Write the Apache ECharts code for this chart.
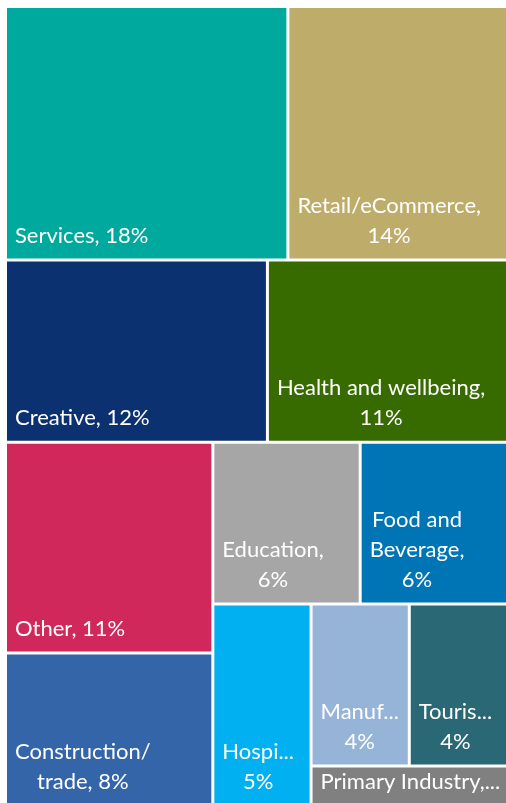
<!DOCTYPE html>
<html>
<head>
<meta charset="utf-8">
<title>Business sectors</title>
<script src="https://cdn.jsdelivr.net/npm/echarts@6/dist/echarts.min.js"></script>
<style>
  html, body { margin: 0; padding: 0; background: #ffffff; }
  #chart { width: 506px; height: 803px; }
</style>
</head>
<body>
<div id="chart"></div>
<script>
// Share of businesses by sector (percent)
const sectors = [
  'Services', 'Retail/eCommerce', 'Creative', 'Health and wellbeing', 'Other',
  'Construction/trade', 'Education', 'Food and Beverage', 'Hospitality',
  'Manufacturing', 'Tourism', 'Primary Industry'
];
const shares = [18, 14, 12, 11, 11, 8, 6, 6, 5, 4, 4, 2];
const palette = [
  '#00A99D', '#BEAD6A', '#0B3170', '#376B00', '#D0285A', '#3465A8',
  '#A6A6A6', '#0075B5', '#00B0F0', '#96B4D8', '#2A6876', '#808080'
];

const FONT_SIZE = 22;
const FONT_FAMILY = 'Lato';
const LINE_H = 30;
const PAD_L = 8, PAD_R = 8, PAD_B = 8;
// an ellipsis may run a little further into the right padding
const ELLIPSIS_EXTRA = 5;

const measureCtx = document.createElement('canvas').getContext('2d');
measureCtx.font = FONT_SIZE + 'px ' + FONT_FAMILY;
const measure = s => measureCtx.measureText(s).width;

// Split a label into words; breaks are allowed at spaces and after '/'.
function tokens(str) {
  const list = [];
  let cur = '', sep = '';
  for (const ch of str) {
    if (ch === ' ') {
      if (cur) list.push({ sep, word: cur });
      cur = ''; sep = ' ';
    } else {
      cur += ch;
      if (ch === '/') { list.push({ sep, word: cur }); cur = ''; sep = ''; }
    }
  }
  if (cur) list.push({ sep, word: cur });
  return list;
}

function withEllipsis(str, maxW) {
  if (str.endsWith('...') && measure(str) <= maxW) return str;
  let p = str;
  while (p.length > 1 && measure(p + '...') > maxW) p = p.slice(0, -1);
  return p + '...';
}

// Word-wrap a label into a box; words that are too long and lines that
// do not fit vertically are cut with an ellipsis.
function wrapLabel(text, maxW, maxLines) {
  const lines = [];
  let line = '';
  for (const tk of tokens(text)) {
    if (line) {
      const trial = line + tk.sep + tk.word;
      if (measure(trial) <= maxW) { line = trial; continue; }
      lines.push(line);
    }
    line = measure(tk.word) <= maxW ? tk.word : withEllipsis(tk.word, maxW);
  }
  if (line) lines.push(line);
  if (lines.length > maxLines) {
    const kept = lines.slice(0, maxLines);
    kept[maxLines - 1] = withEllipsis(kept[maxLines - 1], maxW + ELLIPSIS_EXTRA);
    return kept;
  }
  return lines;
}

const data = sectors.map((name, i) => ({
  name: name,
  value: shares[i],
  itemStyle: { color: palette[i] }
}));

const option = {
  backgroundColor: '#ffffff',
  animation: false,
  series: [{
    type: 'treemap',
    left: 7,
    top: 8,
    width: 499,
    height: 797,
    roam: false,
    nodeClick: false,
    sort: false,
    squareRatio: 0.9,
    breadcrumb: { show: false },
    levels: [
      { itemStyle: { borderWidth: 0, gapWidth: 3, borderColor: '#ffffff' } },
      { itemStyle: { borderWidth: 0, gapWidth: 0 } }
    ],
    label: {
      show: true,
      color: '#ffffff',
      fontFamily: FONT_FAMILY,
      fontSize: FONT_SIZE,
      lineHeight: LINE_H,
      padding: 0,
      overflow: 'none'
    },
    data: data
  }]
};

const chart = echarts.init(document.getElementById('chart'), null, { renderer: 'canvas' });
chart.setOption(option);

// Place each label at the bottom-left of its tile, lines centred within the text block.
const tree = chart.getModel().getSeriesByIndex(0).getData().tree;
tree.root.children.forEach((node, i) => {
  const lay = node.getLayout();
  const maxW = lay.width - PAD_L - PAD_R;
  const maxLines = Math.max(1, Math.floor((lay.height - PAD_B + 6) / LINE_H));
  const text = sectors[i] + ', ' + shares[i] + '%';
  const lines = wrapLabel(text, maxW, maxLines);
  const blockW = Math.max(0, ...lines.map(measure));
  data[i].label = {
    formatter: lines.join('\n'),
    position: [PAD_L + blockW / 2, lay.height - PAD_B],
    align: 'center',
    verticalAlign: 'bottom'
  };
});
chart.setOption({ series: [{ data: data }] });
</script>
</body>
</html>
